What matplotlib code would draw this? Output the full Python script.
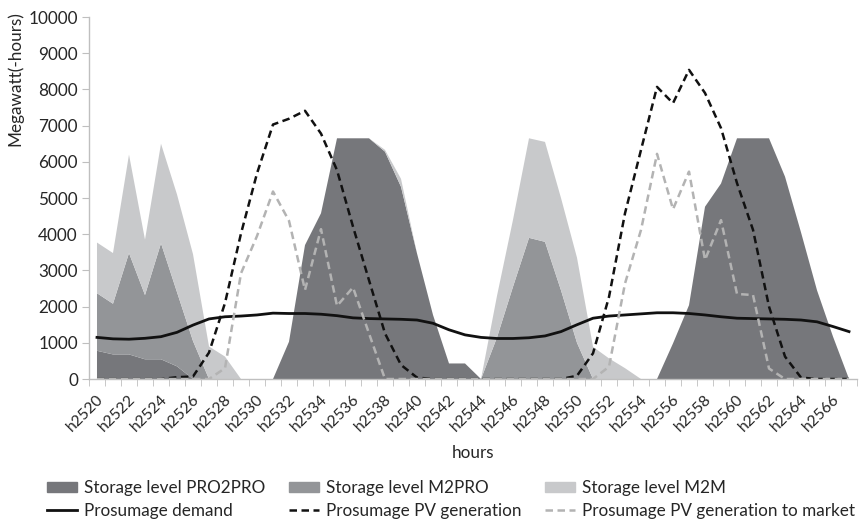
import numpy as np
import matplotlib
matplotlib.use("Agg")
import matplotlib.pyplot as plt
import matplotlib.transforms as mtransforms
from matplotlib.patches import Patch
from matplotlib.lines import Line2D
from matplotlib.ticker import MultipleLocator

# ============================================================
# Datos
# ============================================================
horas = [f"h{h}" for h in range(2520, 2568)]

pro2pro = [780, 680, 680, 545, 545, 350, 0, 0, 0, 0, 0, 0,
           1030, 3700, 4580, 6650, 6650, 6650, 6280, 5310, 3470, 1770, 430, 430,
           0, 0, 0, 0, 0, 0, 0, 0, 0, 0, 0, 0,
           985, 2040, 4760, 5400, 6650, 6650, 6650, 5590, 4050, 2450, 1170, 0]

m2pro = [1590, 1400, 2800, 1775, 3205, 2050, 1050, 0, 0, 0, 0, 0,
         0, 0, 0, 0, 0, 0, 0, 0, 0, 0, 0, 0,
         0, 1150, 2550, 3900, 3790, 2450, 1000, 0, 0, 0, 0, 0,
         0, 0, 0, 0, 0, 0, 0, 0, 0, 0, 0, 0]

m2m = [1400, 1400, 2720, 1530, 2750, 2700, 2400, 900, 620, 0, 0, 0,
       0, 0, 0, 0, 0, 0, 50, 220, 0, 0, 0, 0,
       0, 1150, 1850, 2750, 2760, 2550, 2350, 890, 570, 300, 0, 0,
       0, 0, 0, 0, 0, 0, 0, 0, 0, 0, 0, 0]

demanda = [1150, 1110, 1100, 1125, 1170, 1290, 1490, 1660, 1720, 1740, 1770, 1820,
           1810, 1810, 1790, 1750, 1690, 1670, 1660, 1650, 1630, 1540, 1360, 1220,
           1150, 1120, 1120, 1140, 1190, 1310, 1500, 1680, 1740, 1770, 1800, 1830,
           1830, 1810, 1770, 1720, 1680, 1670, 1660, 1650, 1630, 1580, 1450, 1310]

pv_gen = [0, 0, 0, 0, 0, 50, 70, 730, 2100, 4020, 5680, 7030,
          7190, 7410, 6780, 5770, 4210, 2730, 1260, 390, 40, 0, 0, 0,
          0, 0, 0, 0, 0, 0, 90, 710, 2270, 4580, 6330, 8070,
          7620, 8540, 7900, 6930, 5410, 4120, 2000, 620, 40, 0, 0, 0]

pv_mercado = [0, 0, 0, 0, 0, 0, 0, 0, 300, 2920, 3950, 5180,
              4370, 2460, 4140, 2020, 2530, 1260, 0, 0, 0, 0, 0, 0,
              0, 0, 0, 0, 0, 0, 0, 0, 340, 2640, 4120, 6220,
              4690, 5730, 3290, 4390, 2350, 2320, 290, 0, 0, 0, 0, 0]

etiquetas = ["Storage level PRO2PRO", "Storage level M2PRO", "Storage level M2M",
             "Prosumage demand", "Prosumage PV generation",
             "Prosumage PV generation to market"]

# ============================================================
# Grafico
# ============================================================
plt.rcParams["font.family"] = ["Lato", "DejaVu Sans"]
plt.rcParams["font.size"] = 12.3

col_oscuro = "#76777b"
col_medio = "#939598"
col_claro = "#c8c9cb"
col_eje = "#bfbfbf"
col_texto = "#262626"
guion = (0, (3, 1.8))

x = np.arange(len(horas))

fig = plt.figure(figsize=(8.59, 5.19), dpi=100)
ax = fig.add_axes([0.1036, 0.2697, 0.8941, 0.6975])

ax.stackplot(x, pro2pro, m2pro, m2m,
             colors=[col_oscuro, col_medio, col_claro], linewidth=0)

ax.plot(x, demanda, color="#111111", lw=2)
ax.plot(x, pv_gen, color="#111111", lw=1.8, ls=guion)
ax.plot(x, pv_mercado, color="#b3b3b3", lw=1.8, ls=guion)

ax.set_xlim(-0.5, len(horas) - 0.5)
ax.set_ylim(0, 10000)
ax.yaxis.set_major_locator(MultipleLocator(1000))

# ticks x en los limites de cada categoria, etiquetas cada 2 horas
ax.set_xticks(x[::2])
ax.set_xticklabels(horas[::2], rotation=45, ha="right", va="center",
                   rotation_mode="anchor", fontsize=11.3)
ax.set_xticks(np.arange(-0.5, len(horas)), minor=True)
ax.tick_params(axis="x", which="major", length=0, pad=12.9, colors=col_texto)
ax.tick_params(axis="x", which="minor", length=5, color=col_eje)
ax.tick_params(axis="y", length=5, color=col_eje, labelcolor=col_texto, pad=3)

desplaza = mtransforms.ScaledTranslation(3 / 72, 0, fig.dpi_scale_trans)
for lab in ax.get_xticklabels():
    lab.set_transform(lab.get_transform() + desplaza)

for s in ["top", "right"]:
    ax.spines[s].set_visible(False)
for s in ["left", "bottom"]:
    ax.spines[s].set_color(col_eje)
    ax.spines[s].set_linewidth(1)

ax.set_ylabel("Megawatt(-hours)", color=col_texto, va="center", ha="center")
ax.yaxis.set_label_coords(-0.096, 0.831)
ax.set_xlabel("hours", color=col_texto, va="center")
ax.xaxis.set_label_coords(0.5, -0.204)

# leyenda (matplotlib llena por columnas -> reordenar)
handles = [
    Patch(color=col_oscuro), Patch(color=col_medio), Patch(color=col_claro),
    Line2D([], [], color="#111111", lw=2),
    Line2D([], [], color="#111111", lw=1.8, ls=guion),
    Line2D([], [], color="#b3b3b3", lw=1.8, ls=guion),
]
orden = [0, 3, 1, 4, 2, 5]
fig.legend([handles[i] for i in orden], [etiquetas[i] for i in orden],
           ncol=3, loc="upper left", bbox_to_anchor=(0.0547, 0.075),
           frameon=False, borderpad=0, borderaxespad=0,
           handlelength=1.75, handleheight=0.6, handletextpad=0.4,
           columnspacing=1.4, labelspacing=0.4, labelcolor=col_texto)

fig.savefig("out.png", dpi=100)
